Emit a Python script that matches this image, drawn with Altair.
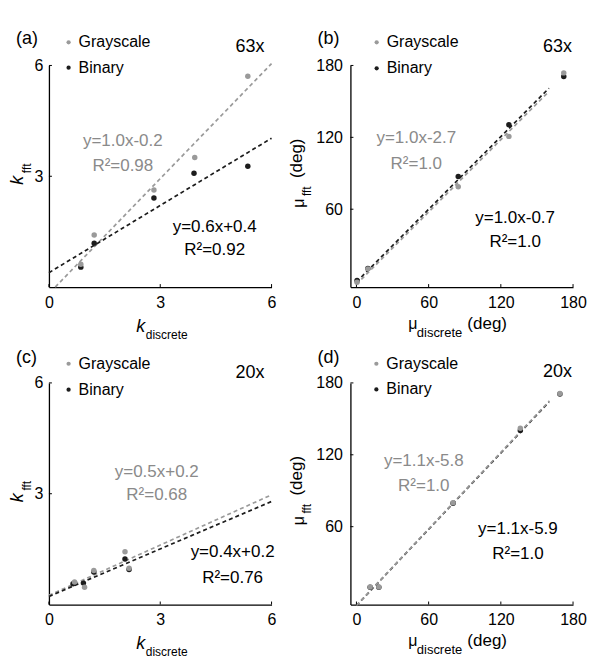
import altair as alt
import pandas as pd

# ---------------- data ----------------
SERIES = ["Grayscale", "Binary"]
COLORS = ["#9a9a9a", "#1c1c1c"]
TEXT_GRAY = "#8a8a8a"

# (a) 63x, k
a_gray_x = [0.86, 1.22, 2.83, 3.93, 5.36]
a_gray_y = [0.62, 1.41, 2.63, 3.51, 5.71]
a_bin_x = [0.86, 1.22, 2.83, 3.91, 5.36]
a_bin_y = [0.54, 1.19, 2.41, 3.08, 3.27]
a_gline_x = [0.17, 6.0]
a_gline_y = [0.0, 6.05]
a_bline_x = [0.0, 6.0]
a_bline_y = [0.39, 4.03]

# (b) 63x, mu
b_gray_x = [0.5, 9.5, 84.6, 126.7, 172.3]
b_gray_y = [-1.0, 10.2, 78.7, 120.8, 173.8]
b_bin_x = [0.5, 9.5, 84.6, 126.7, 172.3]
b_bin_y = [0.5, 10.5, 87.3, 130.5, 170.7]
b_gline_x = [0.0, 159.3]
b_gline_y = [-2.7, 157.6]
b_bline_x = [0.0, 160.0]
b_bline_y = [-0.7, 161.0]

# (c) 20x, k
c_gray_x = [0.69, 0.96, 1.21, 2.05, 2.16]
c_gray_y = [0.61, 0.47, 0.92, 1.43, 0.98]
c_bin_x = [0.65, 0.93, 1.21, 2.05, 2.16]
c_bin_y = [0.56, 0.58, 0.88, 1.23, 0.95]
c_gline_x = [0.0, 6.0]
c_gline_y = [0.25, 2.97]
c_bline_x = [0.0, 6.0]
c_bline_y = [0.22, 2.79]

# (d) 20x, mu
d_gray_x = [11.4, 18.6, 80.3, 136.2, 169.1]
d_gray_y = [9.7, 9.7, 79.9, 142.2, 171.2]
d_bin_x = [11.4, 18.6, 80.3, 136.2, 169.1]
d_bin_y = [9.5, 9.5, 79.5, 140.2, 170.8]
d_gline_x = [0.0, 160.4]
d_gline_y = [-5.8, 165.0]
d_bline_x = [0.0, 160.0]
d_bline_y = [-5.9, 164.0]

K_DOMAIN = [0, 6]
MU_DOMAIN = [-5, 180]
K_XTICKS = [0, 3, 6]
K_YTICKS = [3, 6]
MU_XTICKS = [0, 60, 120, 180]
MU_YTICKS = [60, 120, 180]

PANEL_LABELS = ["(a)", "(b)", "(c)", "(d)"]
MAGS = ["63x", "63x", "20x", "20x"]
FIT_GRAY = [("y=1.0x-0.2", "R²=0.98"), ("y=1.0x-2.7", "R²=1.0"),
            ("y=0.5x+0.2", "R²=0.68"), ("y=1.1x-5.8", "R²=1.0")]
FIT_BIN = [("y=0.6x+0.4", "R²=0.92"), ("y=1.0x-0.7", "R²=1.0"),
           ("y=0.4x+0.2", "R²=0.76"), ("y=1.1x-5.9", "R²=1.0")]

W, H = 223, 222
FONT = "Liberation Sans"


def text_layer(s, x, y, color="black", size=17, align="center", angle=0, style="normal"):
    return alt.Chart(pd.DataFrame({"t": [s]})).mark_text(
        font=FONT, fontSize=size, color=color, align=align, baseline="middle",
        angle=angle, fontStyle=style
    ).encode(text="t:N", x=alt.value(x), y=alt.value(y))


def panel(i, gx, gy, bx, by, glx, gly, blx, bly, dom, xticks, yticks, kind,
          gtext_pos, btext_pos, mag_pos, lab_pos, leg_pos, leg_step, gline_on_top):
    xs = alt.Scale(domain=dom, nice=False, zero=False)
    ys = alt.Scale(domain=dom, nice=False, zero=False)
    pts = pd.DataFrame({
        "x": bx + gx,
        "y": by + gy,
        "series": ["Binary"] * len(bx) + ["Grayscale"] * len(gx),
    })
    pad_lab = 6 if kind == "k" else 8
    xaxis = alt.Axis(values=xticks, title=None, labelPadding=7)
    yaxis = alt.Axis(values=yticks, title=None, labelPadding=pad_lab)
    legend = alt.Legend(orient="none", legendX=leg_pos[0], legendY=leg_pos[1], title=None,
                        labelFontSize=16, labelFont=FONT, labelColor="black",
                        symbolSize=18, symbolType="circle", symbolStrokeWidth=0,
                        labelOffset=2, rowPadding=leg_step - 16, padding=0)

    def line(lx, ly, color):
        return alt.Chart(pd.DataFrame({"x": lx, "y": ly})).mark_line(
            strokeDash=[4, 3], strokeWidth=1.7, color=color
        ).encode(x=alt.X("x:Q", scale=xs, axis=xaxis), y=alt.Y("y:Q", scale=ys, axis=yaxis))

    gl = line(glx, gly, COLORS[0])
    bl = line(blx, bly, COLORS[1])
    lines = [bl, gl] if gline_on_top else [gl, bl]

    points = alt.Chart(pts).mark_circle(size=30, opacity=1).encode(
        x=alt.X("x:Q", scale=xs, axis=xaxis),
        y=alt.Y("y:Q", scale=ys, axis=yaxis),
        color=alt.Color("series:N", scale=alt.Scale(domain=SERIES, range=COLORS), legend=legend),
    )

    xt = alt.Chart(pd.DataFrame({"x": xticks})).mark_rule(color="black", strokeWidth=1).encode(
        x=alt.X("x:Q", scale=xs, axis=xaxis), y=alt.value(H), y2=alt.value(H - 3))
    yt = alt.Chart(pd.DataFrame({"y": yticks})).mark_rule(color="black", strokeWidth=1).encode(
        y=alt.Y("y:Q", scale=ys, axis=yaxis), x=alt.value(0), x2=alt.value(3))

    texts = [
        text_layer(FIT_GRAY[i][0], gtext_pos[0], gtext_pos[1], TEXT_GRAY),
        text_layer(FIT_GRAY[i][1], gtext_pos[0], gtext_pos[1] + gtext_pos[2], TEXT_GRAY),
        text_layer(FIT_BIN[i][0], btext_pos[0], btext_pos[1], "black"),
        text_layer(FIT_BIN[i][1], btext_pos[0], btext_pos[1] + btext_pos[2], "black"),
        text_layer(MAGS[i], mag_pos[0], mag_pos[1], "black", size=18, align="right"),
        text_layer(PANEL_LABELS[i], lab_pos[0], lab_pos[1], "black", size=18, align="left"),
    ]
    if kind == "k":
        texts += [
            text_layer("k", 92, 262, size=18, style="italic"),
            text_layer("discrete", 97, 270, size=12, align="left"),
            text_layer("k", -31, 115, size=18, angle=270, style="italic"),
            text_layer("fft", -22, 103, size=12, angle=270),
        ]
    else:
        texts += [
            text_layer("μ", 62.5, 259, size=16),
            text_layer("discrete", 66.5, 268, size=13, align="left"),
            text_layer("(deg)", 137, 259, size=17, align="center"),
            text_layer("μ", -51, 138, size=16, angle=270),
            text_layer("fft", -43, 126, size=12, angle=270),
            text_layer("(deg)", -53, 93, size=17, angle=270),
        ]

    return alt.layer(*lines, xt, yt, points, *texts).properties(width=W, height=H)


pa = panel(0, a_gray_x, a_gray_y, a_bin_x, a_bin_y, a_gline_x, a_gline_y, a_bline_x, a_bline_y,
           K_DOMAIN, K_XTICKS, K_YTICKS, "k",
           (74, 76, 25), (166, 162, 22.5), (216, -18), (-33, -26), (11.7, -31.2), 25.4, False)
pb = panel(1, b_gray_x, b_gray_y, b_bin_x, b_bin_y, b_gline_x, b_gline_y, b_bline_x, b_bline_y,
           MU_DOMAIN, MU_XTICKS, MU_YTICKS, "mu",
           (66, 72.7, 25.6), (165, 153.3, 24), (222, -18.3), (-33, -26), (18.3, -31.2), 26, False)
pc = panel(2, c_gray_x, c_gray_y, c_bin_x, c_bin_y, c_gline_x, c_gline_y, c_bline_x, c_bline_y,
           K_DOMAIN, K_XTICKS, K_YTICKS, "k",
           (108, 89.7, 23), (184, 169.7, 25.6), (216, -9.7), (-33, -25), (11.7, -27.2), 26, False)
pd_ = panel(3, d_gray_x, d_gray_y, d_bin_x, d_bin_y, d_gline_x, d_gline_y, d_bline_x, d_bline_y,
            MU_DOMAIN, MU_XTICKS, MU_YTICKS, "mu",
            (73.5, 78.7, 24.3), (167.8, 146.3, 24.7), (222, -11.3), (-33, -25), (18, -27.2), 25.7, True)

chart = alt.concat(pa, pb, pc, pd_, columns=2, spacing={"row": 96, "column": 79}, bounds="flush") \
    .resolve_scale(color="independent", x="independent", y="independent") \
    .resolve_legend(color="independent") \
    .properties(padding={"left": 1, "top": 22, "right": 5, "bottom": 5}, background="white") \
    .configure_view(stroke=None) \
    .configure_axis(ticks=False, grid=False, domainColor="black", domainWidth=1.3,
                    labelFontSize=16, labelFont=FONT, labelColor="black", labelFlush=False)

chart.save("out.html", embed_options={"renderer": "svg", "actions": False})
